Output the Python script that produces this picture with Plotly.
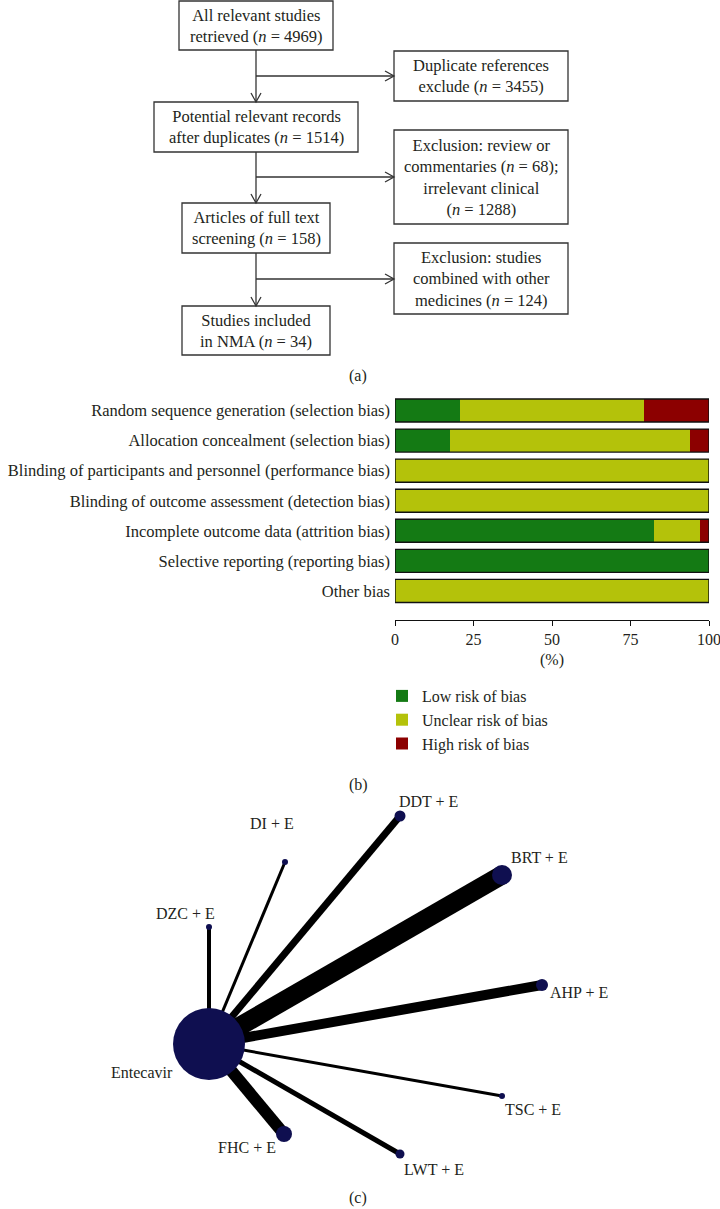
import plotly.graph_objects as go

FONT = "Liberation Serif"
TEXT = "#231f20"

# (a) PRISMA flow counts
RETRIEVED = 4969
DUPLICATES = 3455
AFTER_DUP = 1514
REVIEWS = 68
IRRELEVANT = 1288
FULL_TEXT = 158
COMBINED = 124
INCLUDED = 34

# (b) risk of bias summary, % of studies
DOMAINS = [
    "Random sequence generation (selection bias)",
    "Allocation concealment (selection bias)",
    "Blinding of participants and personnel (performance bias)",
    "Blinding of outcome assessment (detection bias)",
    "Incomplete outcome data (attrition bias)",
    "Selective reporting (reporting bias)",
    "Other bias",
]
LOW = [20.6, 17.6, 0, 0, 82.4, 100, 0]
UNCLEAR = [58.8, 76.5, 100, 100, 14.7, 0, 100]
HIGH = [20.6, 5.9, 0, 0, 2.9, 0, 0]
X_TICKS = [0, 25, 50, 75, 100]

# (c) network plot, first node is the hub
NODES = ["Entecavir", "DZC + E", "DI + E", "DDT + E", "BRT + E",
         "AHP + E", "TSC + E", "LWT + E", "FHC + E"]
NODE_X = [209, 209, 285, 400, 502, 542, 502, 400, 284]
NODE_Y = [1044, 927, 862, 816, 875, 985, 1096, 1154, 1134]
NODE_WEIGHT = [36, 3, 3, 5.5, 10, 6, 3, 4.5, 8]
EDGE_WEIGHT = [0, 2, 1.5, 3.5, 9.5, 5, 1.5, 2.5, 6]

COLOR_LOW = "rgb(20, 122, 20)"
COLOR_UNCLEAR = "rgb(180, 194, 10)"
COLOR_HIGH = "rgb(140, 0, 0)"
NODE_COLOR = "rgb(15, 15, 80)"

FS_FLOW = 16.5
FS_BAR = 16.5
FS_NET = 16

W, H = 720, 1209

# label placement for network nodes: (xanchor, xshift, yshift)
LABEL_POS = {
    "Entecavir": ("right", -34, -28),
    "DZC + E": ("center", -24, 14),
    "DI + E": ("center", -13, 39),
    "DDT + E": ("left", -3, 15),
    "BRT + E": ("left", 7, 18),
    "AHP + E": ("left", 6, -7),
    "TSC + E": ("left", 1, -13),
    "LWT + E": ("left", 2, -15),
    "FHC + E": ("right", -6, -13),
}

fig = go.Figure()

# ---------------- (b) stacked bars ----------------
for name, vals, col in [("Low risk of bias", LOW, COLOR_LOW),
                        ("Unclear risk of bias", UNCLEAR, COLOR_UNCLEAR),
                        ("High risk of bias", HIGH, COLOR_HIGH)]:
    fig.add_trace(go.Bar(
        x=vals, y=DOMAINS, orientation="h", name=name,
        marker=dict(color=col, line=dict(width=0)),
        xaxis="x", yaxis="y", hoverinfo="x+y",
    ))

shapes = []
for i, _ in enumerate(DOMAINS):
    shapes.append(dict(type="rect", xref="x", yref="y",
                       x0=0, x1=100, y0=i - 0.383, y1=i + 0.383,
                       line=dict(color="#111", width=1.4)))

# ---------------- (c) network ----------------
hub_x, hub_y = NODE_X[0], NODE_Y[0]
for k in range(1, len(NODES)):
    fig.add_trace(go.Scatter(
        x=[hub_x, NODE_X[k]], y=[hub_y, NODE_Y[k]], mode="lines",
        line=dict(color="black", width=EDGE_WEIGHT[k] * 2),
        xaxis="x2", yaxis="y2", showlegend=False, hoverinfo="skip",
    ))
fig.add_trace(go.Scatter(
    x=NODE_X, y=NODE_Y, mode="markers", text=NODES, hoverinfo="text",
    marker=dict(color=NODE_COLOR, size=[w * 2 for w in NODE_WEIGHT],
                opacity=1, line=dict(width=0)),
    xaxis="x2", yaxis="y2", showlegend=False,
))

annotations = []
for name, nx, ny in zip(NODES, NODE_X, NODE_Y):
    anchor, dx, dy = LABEL_POS[name]
    annotations.append(dict(x=nx, y=ny, xref="x2", yref="y2", text=name,
                            showarrow=False, xanchor=anchor, yanchor="middle",
                            xshift=dx, yshift=dy,
                            font=dict(family=FONT, size=FS_NET, color=TEXT)))

# ---------------- (a) flow chart ----------------
n = "<i>n</i>"
boxes = [
    (179, 1, 333, 50, f"All relevant studies<br>retrieved ({n} = {RETRIEVED})"),
    (154, 102, 358, 152, f"Potential relevant records<br>after duplicates ({n} = {AFTER_DUP})"),
    (182, 203, 330, 253, f"Articles of full text<br>screening ({n} = {FULL_TEXT})"),
    (182, 306, 330, 355, f"Studies included<br>in NMA ({n} = {INCLUDED})"),
    (394, 51, 568, 101, f"Duplicate references<br>exclude ({n} = {DUPLICATES})"),
    (394, 130, 568, 224, f"Exclusion: review or<br>commentaries ({n} = {REVIEWS});"
                         f"<br>irrelevant clinical<br>({n} = {IRRELEVANT})"),
    (394, 243, 568, 314, f"Exclusion: studies<br>combined with other<br>medicines ({n} = {COMBINED})"),
]
for x0, y0, x1, y1, txt in boxes:
    shapes.append(dict(type="rect", xref="x2", yref="y2", x0=x0, x1=x1, y0=y0, y1=y1,
                       line=dict(color="#333", width=1.3)))
    annotations.append(dict(x=(x0 + x1) / 2, y=(y0 + y1) / 2, xref="x2", yref="y2",
                            text=txt, showarrow=False,
                            font=dict(family=FONT, size=FS_FLOW, color=TEXT)))

cx = 256
line_style = dict(color="#333", width=1.3)
# vertical connectors between main boxes
for top, bottom in [(50, 102), (152, 203), (253, 306)]:
    shapes.append(dict(type="line", xref="x2", yref="y2", x0=cx, x1=cx, y0=top, y1=bottom,
                       line=line_style))
    shapes.append(dict(type="path", xref="x2", yref="y2", line=line_style,
                       path=f"M {cx-5},{bottom-9} L {cx},{bottom} L {cx+5},{bottom-9}"))
# branches to exclusion boxes
for by in [76, 177, 279]:
    shapes.append(dict(type="line", xref="x2", yref="y2", x0=cx, x1=394, y0=by, y1=by,
                       line=line_style))
    shapes.append(dict(type="path", xref="x2", yref="y2", line=line_style,
                       path=f"M 385,{by-5} L 394,{by} L 385,{by+5}"))

for lab, ly in [("(a)", 376), ("(b)", 785), ("(c)", 1198)]:
    annotations.append(dict(x=358, y=ly, xref="x2", yref="y2", text=lab, showarrow=False,
                            font=dict(family=FONT, size=16, color=TEXT)))

x0p, x1p = 395 / W, 709 / W
fig.update_layout(
    width=W, height=H,
    margin=dict(l=0, r=0, t=0, b=0, autoexpand=False),
    paper_bgcolor="white", plot_bgcolor="rgba(0,0,0,0)",
    barmode="stack", bargap=0.233,
    font=dict(family=FONT, size=16, color=TEXT),
    xaxis=dict(domain=[x0p, x1p], anchor="y", range=[0, 100], automargin=False,
               tickvals=X_TICKS, ticks="outside", ticklen=5, tickwidth=1.3,
               tickcolor="#111", showline=True, linecolor="#111", linewidth=1.3,
               showgrid=False, zeroline=False, ticklabeloverflow="allow",
               title=dict(text="(%)", standoff=6, font=dict(size=16)),
               tickfont=dict(size=16)),
    xaxis3=dict(overlaying="x", anchor="y", range=[0, 100], tickvals=X_TICKS,
                ticks="inside", ticklen=4, tickwidth=1.3, tickcolor="#111",
                showticklabels=False, showline=False, showgrid=False, zeroline=False),
    yaxis=dict(domain=[1 - 620 / H, 1 - 395.5 / H], anchor="x", automargin=False,
               type="category", categoryarray=DOMAINS, range=[6.967, -0.5],
               showgrid=False, zeroline=False, showline=False, ticks="",
               ticklabelstandoff=4, tickfont=dict(size=FS_BAR)),
    xaxis2=dict(domain=[0, 1], anchor="y2", range=[0, W], visible=False, automargin=False),
    yaxis2=dict(domain=[0, 1], anchor="x2", range=[H, 0], visible=False, automargin=False),
    legend=dict(x=382 / W, y=1 - 679 / H, xanchor="left", yanchor="top",
                traceorder="normal", font=dict(size=16), bgcolor="rgba(0,0,0,0)"),
    shapes=shapes,
    annotations=annotations,
)

# drop the default page margin so the figure sits at the window's corner
fig.write_html("out.html", config={"displayModeBar": False},
               post_script="document.body.style.margin = '0';")
